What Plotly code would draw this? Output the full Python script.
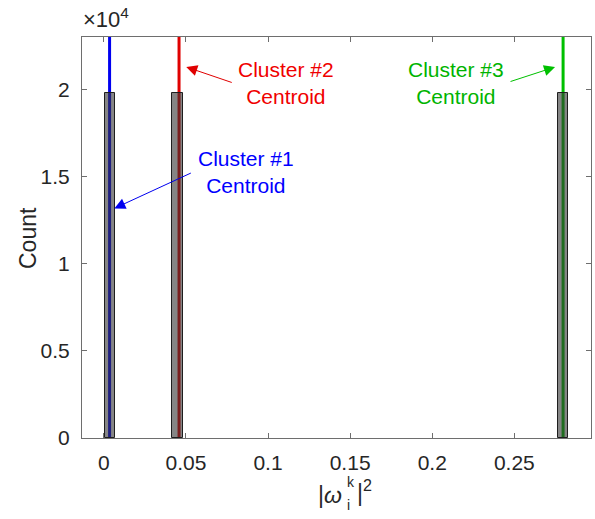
import plotly.graph_objects as go

# ---- data ----
bin_centers = [0.0037, 0.0449, 0.2797]
bin_counts = [19800, 19800, 19800]
bin_width = 0.0063
centroids = [0.0035, 0.0458, 0.2797]
centroid_colors = ["#0000F0", "#E00000", "#00C000"]
text_colors = ["#0000FF", "#F00000", "#00B400"]
labels = ["Cluster #1<br>Centroid", "Cluster #2<br>Centroid", "Cluster #3<br>Centroid"]
label_pos = [(0.0865, 15250), (0.1110, 20380), (0.2147, 20380)]
arrow_heads = [(0.0064, 13170), (0.0502, 21280), (0.2748, 21280)]
arrow_offsets = [(78, -36), (47, 16), (-46, 15)]
x_tickvals = [0, 0.05, 0.1, 0.15, 0.2, 0.25]
x_ticktext = ["0", "0.05", "0.1", "0.15", "0.2", "0.25"]
y_tickvals = [0, 5000, 10000, 15000, 20000]
y_ticktext = ["0", "0.5", "1", "1.5", "2"]
x_range = [-0.0133, 0.2967]
y_range = [0, 23000]

FONT = "Liberation Sans, Arial, Helvetica, sans-serif"
DARK = "#262626"

# plot area in pixels
L, R, T, B = 82, 4, 37, 81
W, H = 595, 519
PW, PH = W - L - R, H - T - B


def px_x(px):
    return (px - L) / PW


def px_y(py):
    return (H - B - py) / PH


fig = go.Figure()

shapes = []
for c, col in zip(centroids, centroid_colors):
    shapes.append(dict(type="line", xref="x", yref="y", x0=c, x1=c,
                       y0=y_range[0], y1=y_range[1],
                       line=dict(color=col, width=3), layer="below"))

fig.add_trace(go.Bar(
    x=bin_centers, y=bin_counts, width=bin_width,
    marker=dict(color="rgba(51,51,51,0.6)",
                line=dict(color="rgba(30,30,30,1)", width=1)),
    showlegend=False, hoverinfo="skip"))

annotations = []
for (hx, hy), (ax, ay), col in zip(arrow_heads, arrow_offsets, centroid_colors):
    annotations.append(dict(x=hx, y=hy, xref="x", yref="y", ax=ax, ay=ay,
                            axref="pixel", ayref="pixel", text="",
                            showarrow=True, arrowhead=2, arrowsize=2.2,
                            arrowwidth=1, arrowcolor=col, standoff=0))
for (tx, ty), lab, col in zip(label_pos, labels, text_colors):
    annotations.append(dict(x=tx, y=ty, xref="x", yref="y", text=lab,
                            showarrow=False, align="center",
                            font=dict(family=FONT, size=21, color=col)))

# exponent label
annotations.append(dict(x=px_x(81), y=px_y(34), xref="paper", yref="paper",
                        xanchor="left", yanchor="bottom",
                        text="×10<sup>4</sup>", showarrow=False,
                        font=dict(family=FONT, size=22, color=DARK)))
# y title
annotations.append(dict(x=px_x(28), y=px_y(238), xref="paper", yref="paper",
                        xanchor="center", yanchor="middle", textangle=-90,
                        text="Count", showarrow=False,
                        font=dict(family=FONT, size=23, color=DARK)))
# x title: |ω_i^k|^2 with stacked sub/superscript
annotations.append(dict(x=px_x(344), y=px_y(495), xref="paper", yref="paper",
                        xanchor="right", yanchor="middle",
                        text="|<i>ω</i>", showarrow=False,
                        font=dict(family=FONT, size=23, color=DARK)))
annotations.append(dict(x=px_x(345), y=px_y(482), xref="paper", yref="paper",
                        xanchor="left", yanchor="middle",
                        text="k", showarrow=False,
                        font=dict(family=FONT, size=14, color=DARK)))
annotations.append(dict(x=px_x(345), y=px_y(505), xref="paper", yref="paper",
                        xanchor="left", yanchor="middle",
                        text="i", showarrow=False,
                        font=dict(family=FONT, size=14, color=DARK)))
annotations.append(dict(x=px_x(355), y=px_y(491), xref="paper", yref="paper",
                        xanchor="left", yanchor="middle",
                        text="|<sup>2</sup>", showarrow=False,
                        font=dict(family=FONT, size=23, color=DARK)))

axis_common = dict(showline=True, linecolor="#6e6e6e", linewidth=1,
                   mirror="allticks", ticks="inside", ticklen=5,
                   tickcolor="#6e6e6e", tickwidth=1, showgrid=False,
                   zeroline=False, automargin=False,
                   tickfont=dict(family=FONT, size=21, color=DARK))

fig.update_layout(
    width=W, height=H,
    margin=dict(l=L, r=R, t=T, b=B),
    paper_bgcolor="white", plot_bgcolor="white",
    shapes=shapes, annotations=annotations,
    bargap=0,
    xaxis=dict(range=x_range, tickvals=x_tickvals, ticktext=x_ticktext,
               ticklabelstandoff=6, **axis_common),
    yaxis=dict(range=y_range, tickvals=y_tickvals, ticktext=y_ticktext,
               ticklabelstandoff=7, **axis_common),
)

fig.write_html(
    "out.html",
    config={"displayModeBar": False},
    post_script="document.body.style.margin='0px';document.body.style.overflow='hidden';",
)
